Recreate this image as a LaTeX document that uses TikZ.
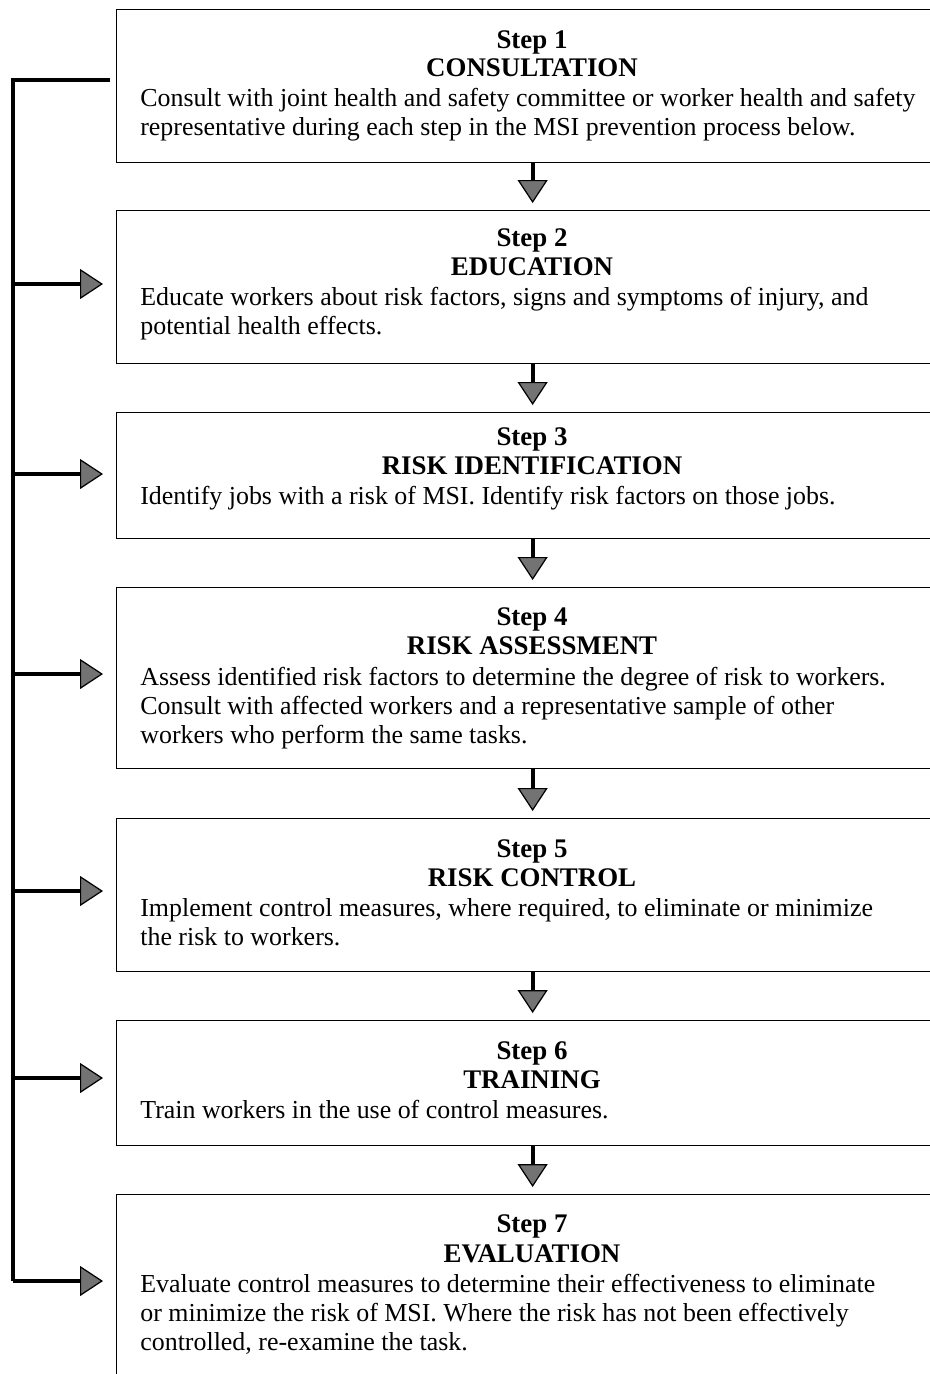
\documentclass[tikz,border=0pt]{standalone}
\usepackage{fontspec}
\setmainfont{Liberation Serif}
\usetikzlibrary{arrows.meta}
\tikzset{
  stepbox/.style={draw, line width=0.8pt, rectangle, anchor=north west,
    minimum width=16.64cm, inner sep=0},
  head/.style={anchor=base, font=\fontsize{15.3}{17}\selectfont\bfseries, inner sep=0},
  body/.style={anchor=base west, font=\fontsize{14.75}{17}\selectfont, inner sep=0},
  tip/.style={-{Triangle[width=0.6cm,length=0.46cm,line width=0.7pt,fill=black!55]}},
  down/.style={tip, line width=2.4pt, shorten >=0.14cm},
  side/.style={tip, line width=2.4pt, shorten >=0.26cm},
  bus/.style={line width=2.8pt, line join=miter},
}
\begin{document}
\begin{tikzpicture}[x=0.02cm,y=-0.02cm]
\useasboundingbox (0,0) rectangle (930,1374);

% boxes
\node[stepbox, minimum height=3.06cm] (b1) at (116,9) {};
\node[stepbox, minimum height=3.06cm] (b2) at (116,210) {};
\node[stepbox, minimum height=2.52cm] (b3) at (116,412) {};
\node[stepbox, minimum height=3.62cm] (b4) at (116,587) {};
\node[stepbox, minimum height=3.06cm] (b5) at (116,818) {};
\node[stepbox, minimum height=2.50cm] (b6) at (116,1020) {};
\node[stepbox, minimum height=4.52cm] (b7) at (116,1194) {};

% texts
\node[head] (s1) at (532,48) {Step 1};
\node[head] (h1) at (532,76) {CONSULTATION};
\node[body] (t1a) at (140,106) {Consult with joint health and safety committee or worker health and safety};
\node[body] (t1b) at (140,135) {representative during each step in the MSI prevention process below.};

\node[head] (s2) at (532,246) {Step 2};
\node[head] (h2) at (532,275) {EDUCATION};
\node[body] (t2a) at (140,305) {Educate workers about risk factors, signs and symptoms of injury, and};
\node[body] (t2b) at (140,334) {potential health effects.};

\node[head] (s3) at (532,445) {Step 3};
\node[head] (h3) at (532,474) {RISK IDENTIFICATION};
\node[body] (t3a) at (140,504) {Identify jobs with a risk of MSI. Identify risk factors on those jobs.};

\node[head] (s4) at (532,625) {Step 4};
\node[head] (h4) at (532,654) {RISK ASSESSMENT};
\node[body] (t4a) at (140,685) {Assess identified risk factors to determine the degree of risk to workers.};
\node[body] (t4b) at (140,714) {Consult with affected workers and a representative sample of other};
\node[body] (t4c) at (140,743) {workers who perform the same tasks.};

\node[head] (s5) at (532,857) {Step 5};
\node[head] (h5) at (532,886) {RISK CONTROL};
\node[body] (t5a) at (140,916) {Implement control measures, where required, to eliminate or minimize};
\node[body] (t5b) at (140,945) {the risk to workers.};

\node[head] (s6) at (532,1059) {Step 6};
\node[head] (h6) at (532,1088) {TRAINING};
\node[body] (t6a) at (140,1118) {Train workers in the use of control measures.};

\node[head] (s7) at (532,1232) {Step 7};
\node[head] (h7) at (532,1262) {EVALUATION};
\node[body] (t7a) at (140,1292) {Evaluate control measures to determine their effectiveness to eliminate};
\node[body] (t7b) at (140,1321) {or minimize the risk of MSI. Where the risk has not been effectively};
\node[body] (t7c) at (140,1350) {controlled, re-examine the task.};

% down arrows
\draw[down] (b1.south) -- (b2.north);
\draw[down] (b2.south) -- (b3.north);
\draw[down] (b3.south) -- (b4.north);
\draw[down] (b4.south) -- (b5.north);
\draw[down] (b5.south) -- (b6.north);
\draw[down] (b6.south) -- (b7.north);

% feedback bus
\coordinate (top) at (13,80);
\coordinate (j2) at (13,284);
\coordinate (j3) at (13,474);
\coordinate (j4) at (13,674);
\coordinate (j5) at (13,891);
\coordinate (j6) at (13,1078);
\coordinate (j7) at (13,1281);
\draw[bus, shorten <=0.12cm] (top -| b1.west) -- (top) -- (j7);
\draw[side] (j2) -- (j2 -| b2.west);
\draw[side] (j3) -- (j3 -| b3.west);
\draw[side] (j4) -- (j4 -| b4.west);
\draw[side] (j5) -- (j5 -| b5.west);
\draw[side] (j6) -- (j6 -| b6.west);
\draw[side] (j7) -- (j7 -| b7.west);
\end{tikzpicture}
\end{document}
